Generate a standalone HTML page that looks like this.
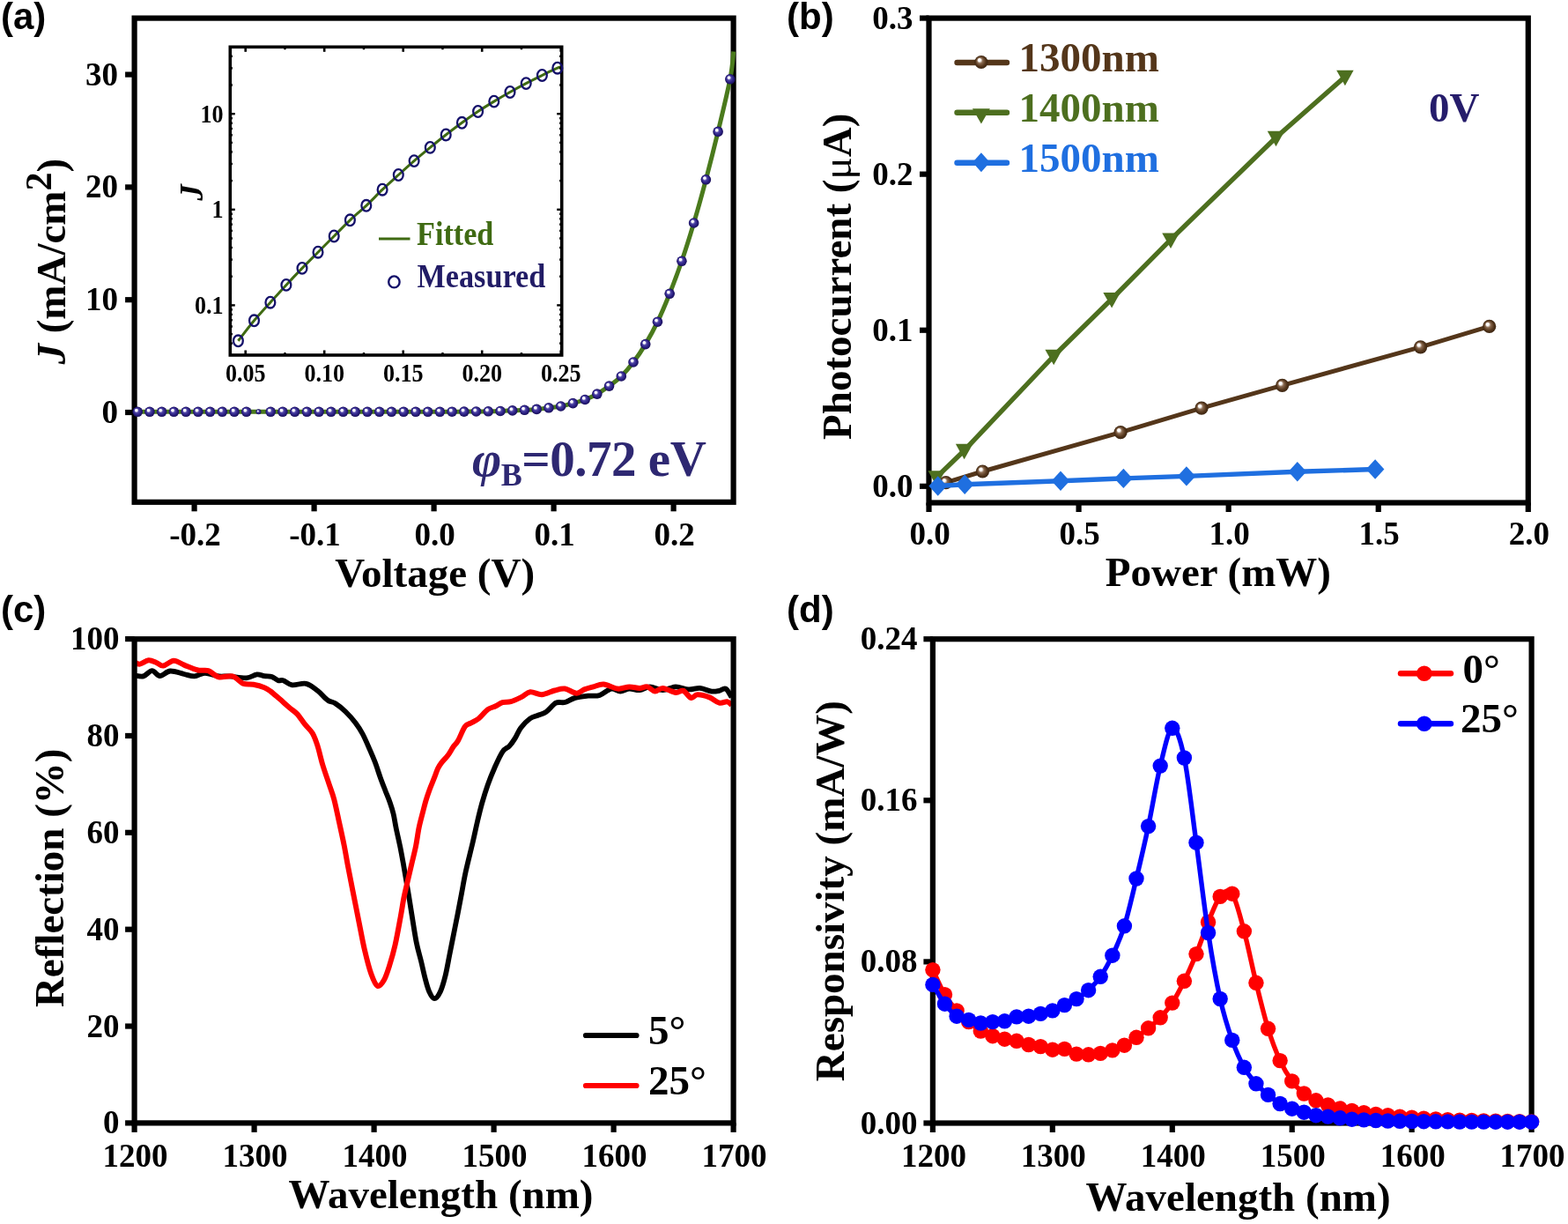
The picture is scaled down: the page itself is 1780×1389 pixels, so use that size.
<!DOCTYPE html><html><head><meta charset="utf-8"><title>Figure</title><style>
html,body{margin:0;padding:0;background:#fff;}
svg{display:block;}
.tk{font-family:'Liberation Serif', 'Times New Roman', serif;font-weight:bold;font-size:37px;fill:#000;}
.ax{font-family:'Liberation Serif', 'Times New Roman', serif;font-weight:bold;font-size:47px;fill:#000;}
.pl{font-family:'Liberation Sans', Arial, sans-serif;font-weight:bold;font-size:42px;fill:#000;}
</style></head><body>
<svg width="1780" height="1389" viewBox="0 0 1780 1389">
<rect width="1780" height="1389" fill="#fff"/>
<defs>
<radialGradient id="gball" cx="0.5" cy="0.5" r="0.5" fx="0.33" fy="0.3"><stop offset="0" stop-color="#ffffff"/><stop offset="0.22" stop-color="#ffffff"/><stop offset="0.42" stop-color="#5046a6"/><stop offset="0.7" stop-color="#2e2386"/><stop offset="1" stop-color="#170d58"/></radialGradient>
<radialGradient id="bball" cx="0.5" cy="0.5" r="0.5" fx="0.33" fy="0.3"><stop offset="0" stop-color="#ffffff"/><stop offset="0.2" stop-color="#ffffff"/><stop offset="0.42" stop-color="#8a6a50"/><stop offset="0.75" stop-color="#54361c"/><stop offset="1" stop-color="#3a2410"/></radialGradient>
<clipPath id="clipIn"><rect x="263" y="55" width="373" height="346.5"/></clipPath>
</defs>
<rect x="152.6" y="20.6" width="680" height="549.2" fill="none" stroke="#000" stroke-width="6.2" stroke-linejoin="miter"/>
<line x1="142.1" y1="468" x2="152.6" y2="468" stroke="#000" stroke-width="6.2"/>
<text x="134" y="480" text-anchor="end" class="tk">0</text>
<line x1="142.1" y1="340.2" x2="152.6" y2="340.2" stroke="#000" stroke-width="6.2"/>
<text x="134" y="352.2" text-anchor="end" class="tk">10</text>
<line x1="142.1" y1="212.4" x2="152.6" y2="212.4" stroke="#000" stroke-width="6.2"/>
<text x="134" y="224.4" text-anchor="end" class="tk">20</text>
<line x1="142.1" y1="84.6" x2="152.6" y2="84.6" stroke="#000" stroke-width="6.2"/>
<text x="134" y="96.6" text-anchor="end" class="tk">30</text>
<line x1="220.6" y1="569.8" x2="220.6" y2="580.3" stroke="#000" stroke-width="6.2"/>
<text x="221.6" y="618.6" text-anchor="middle" class="tk">-0.2</text>
<line x1="356.6" y1="569.8" x2="356.6" y2="580.3" stroke="#000" stroke-width="6.2"/>
<text x="357.6" y="618.6" text-anchor="middle" class="tk">-0.1</text>
<line x1="492.6" y1="569.8" x2="492.6" y2="580.3" stroke="#000" stroke-width="6.2"/>
<text x="493.6" y="618.6" text-anchor="middle" class="tk">0.0</text>
<line x1="628.6" y1="569.8" x2="628.6" y2="580.3" stroke="#000" stroke-width="6.2"/>
<text x="629.6" y="618.6" text-anchor="middle" class="tk">0.1</text>
<line x1="764.6" y1="569.8" x2="764.6" y2="580.3" stroke="#000" stroke-width="6.2"/>
<text x="765.6" y="618.6" text-anchor="middle" class="tk">0.2</text>
<path d="M153,467.4 C153.53,467.38 153.38,467.32 156.2,467.3 C159.02,467.28 165.35,467.3 169.93,467.3 C174.5,467.3 179.08,467.3 183.65,467.3 C188.23,467.3 192.81,467.3 197.38,467.3 C201.96,467.3 206.53,467.3 211.11,467.3 C215.68,467.3 220.26,467.3 224.83,467.3 C229.41,467.3 233.99,467.3 238.56,467.3 C243.14,467.3 247.71,467.3 252.29,467.3 C256.86,467.3 261.44,467.3 266.02,467.3 C270.59,467.3 275.17,467.3 279.74,467.3 C284.32,467.3 288.89,467.3 293.47,467.3 C298.05,467.3 302.62,467.3 307.2,467.3 C311.77,467.3 316.35,467.3 320.92,467.3 C325.5,467.3 330.08,467.3 334.65,467.3 C339.23,467.3 343.8,467.3 348.38,467.3 C352.95,467.3 357.53,467.3 362.11,467.3 C366.68,467.3 371.26,467.3 375.83,467.3 C380.41,467.3 384.98,467.3 389.56,467.3 C394.13,467.3 398.71,467.3 403.29,467.3 C407.86,467.3 412.44,467.3 417.01,467.3 C421.59,467.3 426.16,467.3 430.74,467.3 C435.32,467.3 439.89,467.3 444.47,467.3 C449.04,467.3 453.62,467.3 458.19,467.3 C462.77,467.3 467.35,467.3 471.92,467.3 C476.5,467.3 481.07,467.3 485.65,467.3 C490.22,467.3 494.8,467.32 499.38,467.3 C503.95,467.28 508.53,467.23 513.1,467.2 C517.68,467.17 522.25,467.13 526.83,467.1 C531.4,467.07 535.98,467.05 540.56,467 C545.13,466.95 549.71,466.88 554.28,466.8 C558.86,466.72 563.43,466.65 568.01,466.5 C572.59,466.35 577.16,466.1 581.74,465.9 C586.31,465.7 590.89,465.55 595.46,465.3 C600.04,465.05 604.62,464.82 609.19,464.4 C613.77,463.98 618.34,463.37 622.92,462.8 C627.49,462.23 632.07,461.87 636.64,461 C641.22,460.13 645.8,458.85 650.37,457.6 C654.95,456.35 659.52,455.25 664.1,453.5 C668.67,451.75 673.25,449.67 677.83,447.1 C682.4,444.53 686.98,441.45 691.55,438.1 C696.13,434.75 700.7,431.52 705.28,427 C709.86,422.48 714.43,417.07 719.01,411 C723.58,404.93 728.16,398.23 732.73,390.6 C737.31,382.97 741.89,374.75 746.46,365.2 C751.04,355.65 755.61,344.78 760.19,333.3 C764.76,321.82 769.34,309.68 773.91,296.3 C778.49,282.92 783.07,268.42 787.64,253 C792.22,237.58 796.79,221.07 801.37,203.8 C805.94,186.53 810.52,168.4 815.1,149.4 C819.67,130.4 825.87,104.95 828.82,89.8 C831.77,74.65 832.14,63.72 832.8,58.5" fill="none" stroke="#4a7a1c" stroke-width="5.0" stroke-linejoin="round"/>
<circle cx="156.2" cy="467.3" r="5.8" fill="url(#gball)"/>
<circle cx="169.93" cy="467.3" r="5.8" fill="url(#gball)"/>
<circle cx="183.65" cy="467.3" r="5.8" fill="url(#gball)"/>
<circle cx="197.38" cy="467.3" r="5.8" fill="url(#gball)"/>
<circle cx="211.11" cy="467.3" r="5.8" fill="url(#gball)"/>
<circle cx="224.83" cy="467.3" r="5.8" fill="url(#gball)"/>
<circle cx="238.56" cy="467.3" r="5.8" fill="url(#gball)"/>
<circle cx="252.29" cy="467.3" r="5.8" fill="url(#gball)"/>
<circle cx="266.02" cy="467.3" r="5.8" fill="url(#gball)"/>
<circle cx="279.74" cy="467.3" r="5.8" fill="url(#gball)"/>
<circle cx="293.47" cy="467.3" r="3.0" fill="url(#gball)"/>
<circle cx="307.2" cy="467.3" r="5.8" fill="url(#gball)"/>
<circle cx="320.92" cy="467.3" r="5.8" fill="url(#gball)"/>
<circle cx="334.65" cy="467.3" r="5.8" fill="url(#gball)"/>
<circle cx="348.38" cy="467.3" r="5.8" fill="url(#gball)"/>
<circle cx="362.11" cy="467.3" r="5.8" fill="url(#gball)"/>
<circle cx="375.83" cy="467.3" r="5.8" fill="url(#gball)"/>
<circle cx="389.56" cy="467.3" r="5.8" fill="url(#gball)"/>
<circle cx="403.29" cy="467.3" r="5.8" fill="url(#gball)"/>
<circle cx="417.01" cy="467.3" r="5.8" fill="url(#gball)"/>
<circle cx="430.74" cy="467.3" r="5.8" fill="url(#gball)"/>
<circle cx="444.47" cy="467.3" r="5.8" fill="url(#gball)"/>
<circle cx="458.19" cy="467.3" r="5.8" fill="url(#gball)"/>
<circle cx="471.92" cy="467.3" r="5.8" fill="url(#gball)"/>
<circle cx="485.65" cy="467.3" r="5.8" fill="url(#gball)"/>
<circle cx="499.38" cy="467.3" r="5.8" fill="url(#gball)"/>
<circle cx="513.1" cy="467.2" r="5.8" fill="url(#gball)"/>
<circle cx="526.83" cy="467.1" r="5.8" fill="url(#gball)"/>
<circle cx="540.56" cy="467" r="5.8" fill="url(#gball)"/>
<circle cx="554.28" cy="466.8" r="5.8" fill="url(#gball)"/>
<circle cx="568.01" cy="466.5" r="5.8" fill="url(#gball)"/>
<circle cx="581.74" cy="465.9" r="5.8" fill="url(#gball)"/>
<circle cx="595.46" cy="465.3" r="5.8" fill="url(#gball)"/>
<circle cx="609.19" cy="464.4" r="5.8" fill="url(#gball)"/>
<circle cx="622.92" cy="462.8" r="5.8" fill="url(#gball)"/>
<circle cx="636.64" cy="461" r="5.8" fill="url(#gball)"/>
<circle cx="650.37" cy="457.6" r="5.8" fill="url(#gball)"/>
<circle cx="664.1" cy="453.5" r="5.8" fill="url(#gball)"/>
<circle cx="677.83" cy="447.1" r="5.8" fill="url(#gball)"/>
<circle cx="691.55" cy="438.1" r="5.8" fill="url(#gball)"/>
<circle cx="705.28" cy="427" r="5.8" fill="url(#gball)"/>
<circle cx="719.01" cy="411" r="5.8" fill="url(#gball)"/>
<circle cx="732.73" cy="390.6" r="5.8" fill="url(#gball)"/>
<circle cx="746.46" cy="365.2" r="5.8" fill="url(#gball)"/>
<circle cx="760.19" cy="333.3" r="5.8" fill="url(#gball)"/>
<circle cx="773.91" cy="296.3" r="5.8" fill="url(#gball)"/>
<circle cx="787.64" cy="253" r="5.8" fill="url(#gball)"/>
<circle cx="801.37" cy="203.8" r="5.8" fill="url(#gball)"/>
<circle cx="815.1" cy="149.4" r="5.8" fill="url(#gball)"/>
<circle cx="828.82" cy="89.8" r="5.8" fill="url(#gball)"/>
<rect x="261.3" y="53.3" width="376.4" height="349.7" fill="#fff" stroke="none"/>
<g clip-path="url(#clipIn)">
<path d="M270.4,386.8 C273.42,382.97 282.42,371.07 288.5,363.8 C294.58,356.53 300.83,349.93 306.9,343.2 C312.97,336.47 318.88,329.87 324.9,323.4 C330.92,316.93 336.98,310.6 343,304.4 C349.02,298.2 354.97,292.27 361,286.2 C367.03,280.13 373.13,274.07 379.2,268 C385.27,261.93 391.3,255.58 397.4,249.8 C403.5,244.02 409.68,239.07 415.8,233.3 C421.92,227.53 428.02,221 434.1,215.2 C440.18,209.4 446.3,203.93 452.3,198.5 C458.3,193.07 464.1,187.78 470.1,182.6 C476.1,177.42 482.28,172.33 488.3,167.4 C494.32,162.47 500.18,157.68 506.2,153 C512.22,148.32 518.33,143.72 524.4,139.3 C530.47,134.88 536.53,130.53 542.6,126.5 C548.67,122.47 554.73,118.77 560.8,115.1 C566.87,111.43 572.93,107.92 579,104.5 C585.07,101.08 591.13,97.77 597.2,94.6 C603.27,91.43 609.47,88.4 615.4,85.5 C621.33,82.6 628.7,78.92 632.8,77.2 C636.9,75.48 638.8,75.53 640,75.2" fill="none" stroke="#3f6a12" stroke-width="3" stroke-linejoin="round"/>
</g>
<rect x="261.3" y="53.3" width="376.4" height="349.7" fill="none" stroke="#000" stroke-width="3.6"/>
<line x1="278.7" y1="403" x2="278.7" y2="397.5" stroke="#000" stroke-width="2.6"/>
<line x1="278.7" y1="53.3" x2="278.7" y2="58.8" stroke="#000" stroke-width="2.6"/>
<line x1="368.2" y1="403" x2="368.2" y2="397.5" stroke="#000" stroke-width="2.6"/>
<line x1="368.2" y1="53.3" x2="368.2" y2="58.8" stroke="#000" stroke-width="2.6"/>
<line x1="457.7" y1="403" x2="457.7" y2="397.5" stroke="#000" stroke-width="2.6"/>
<line x1="457.7" y1="53.3" x2="457.7" y2="58.8" stroke="#000" stroke-width="2.6"/>
<line x1="547.2" y1="403" x2="547.2" y2="397.5" stroke="#000" stroke-width="2.6"/>
<line x1="547.2" y1="53.3" x2="547.2" y2="58.8" stroke="#000" stroke-width="2.6"/>
<line x1="636.7" y1="403" x2="636.7" y2="397.5" stroke="#000" stroke-width="2.6"/>
<line x1="636.7" y1="53.3" x2="636.7" y2="58.8" stroke="#000" stroke-width="2.6"/>
<line x1="323.45" y1="403" x2="323.45" y2="400" stroke="#000" stroke-width="2.4"/>
<line x1="323.45" y1="53.3" x2="323.45" y2="56.3" stroke="#000" stroke-width="2.4"/>
<line x1="412.95" y1="403" x2="412.95" y2="400" stroke="#000" stroke-width="2.4"/>
<line x1="412.95" y1="53.3" x2="412.95" y2="56.3" stroke="#000" stroke-width="2.4"/>
<line x1="502.45" y1="403" x2="502.45" y2="400" stroke="#000" stroke-width="2.4"/>
<line x1="502.45" y1="53.3" x2="502.45" y2="56.3" stroke="#000" stroke-width="2.4"/>
<line x1="591.95" y1="403" x2="591.95" y2="400" stroke="#000" stroke-width="2.4"/>
<line x1="591.95" y1="53.3" x2="591.95" y2="56.3" stroke="#000" stroke-width="2.4"/>
<line x1="261.3" y1="389.62" x2="263.9" y2="389.62" stroke="#000" stroke-width="2.4"/>
<line x1="637.7" y1="389.62" x2="635.1" y2="389.62" stroke="#000" stroke-width="2.4"/>
<line x1="261.3" y1="379.09" x2="263.9" y2="379.09" stroke="#000" stroke-width="2.4"/>
<line x1="637.7" y1="379.09" x2="635.1" y2="379.09" stroke="#000" stroke-width="2.4"/>
<line x1="261.3" y1="370.49" x2="263.9" y2="370.49" stroke="#000" stroke-width="2.4"/>
<line x1="637.7" y1="370.49" x2="635.1" y2="370.49" stroke="#000" stroke-width="2.4"/>
<line x1="261.3" y1="363.22" x2="263.9" y2="363.22" stroke="#000" stroke-width="2.4"/>
<line x1="637.7" y1="363.22" x2="635.1" y2="363.22" stroke="#000" stroke-width="2.4"/>
<line x1="261.3" y1="356.92" x2="263.9" y2="356.92" stroke="#000" stroke-width="2.4"/>
<line x1="637.7" y1="356.92" x2="635.1" y2="356.92" stroke="#000" stroke-width="2.4"/>
<line x1="261.3" y1="351.37" x2="263.9" y2="351.37" stroke="#000" stroke-width="2.4"/>
<line x1="637.7" y1="351.37" x2="635.1" y2="351.37" stroke="#000" stroke-width="2.4"/>
<line x1="261.3" y1="346.4" x2="266.8" y2="346.4" stroke="#000" stroke-width="2.4"/>
<line x1="637.7" y1="346.4" x2="632.2" y2="346.4" stroke="#000" stroke-width="2.4"/>
<line x1="261.3" y1="313.71" x2="263.9" y2="313.71" stroke="#000" stroke-width="2.4"/>
<line x1="637.7" y1="313.71" x2="635.1" y2="313.71" stroke="#000" stroke-width="2.4"/>
<line x1="261.3" y1="294.58" x2="263.9" y2="294.58" stroke="#000" stroke-width="2.4"/>
<line x1="637.7" y1="294.58" x2="635.1" y2="294.58" stroke="#000" stroke-width="2.4"/>
<line x1="261.3" y1="281.02" x2="263.9" y2="281.02" stroke="#000" stroke-width="2.4"/>
<line x1="637.7" y1="281.02" x2="635.1" y2="281.02" stroke="#000" stroke-width="2.4"/>
<line x1="261.3" y1="270.49" x2="263.9" y2="270.49" stroke="#000" stroke-width="2.4"/>
<line x1="637.7" y1="270.49" x2="635.1" y2="270.49" stroke="#000" stroke-width="2.4"/>
<line x1="261.3" y1="261.89" x2="263.9" y2="261.89" stroke="#000" stroke-width="2.4"/>
<line x1="637.7" y1="261.89" x2="635.1" y2="261.89" stroke="#000" stroke-width="2.4"/>
<line x1="261.3" y1="254.62" x2="263.9" y2="254.62" stroke="#000" stroke-width="2.4"/>
<line x1="637.7" y1="254.62" x2="635.1" y2="254.62" stroke="#000" stroke-width="2.4"/>
<line x1="261.3" y1="248.32" x2="263.9" y2="248.32" stroke="#000" stroke-width="2.4"/>
<line x1="637.7" y1="248.32" x2="635.1" y2="248.32" stroke="#000" stroke-width="2.4"/>
<line x1="261.3" y1="242.77" x2="263.9" y2="242.77" stroke="#000" stroke-width="2.4"/>
<line x1="637.7" y1="242.77" x2="635.1" y2="242.77" stroke="#000" stroke-width="2.4"/>
<line x1="261.3" y1="237.8" x2="266.8" y2="237.8" stroke="#000" stroke-width="2.4"/>
<line x1="637.7" y1="237.8" x2="632.2" y2="237.8" stroke="#000" stroke-width="2.4"/>
<line x1="261.3" y1="205.11" x2="263.9" y2="205.11" stroke="#000" stroke-width="2.4"/>
<line x1="637.7" y1="205.11" x2="635.1" y2="205.11" stroke="#000" stroke-width="2.4"/>
<line x1="261.3" y1="185.98" x2="263.9" y2="185.98" stroke="#000" stroke-width="2.4"/>
<line x1="637.7" y1="185.98" x2="635.1" y2="185.98" stroke="#000" stroke-width="2.4"/>
<line x1="261.3" y1="172.42" x2="263.9" y2="172.42" stroke="#000" stroke-width="2.4"/>
<line x1="637.7" y1="172.42" x2="635.1" y2="172.42" stroke="#000" stroke-width="2.4"/>
<line x1="261.3" y1="161.89" x2="263.9" y2="161.89" stroke="#000" stroke-width="2.4"/>
<line x1="637.7" y1="161.89" x2="635.1" y2="161.89" stroke="#000" stroke-width="2.4"/>
<line x1="261.3" y1="153.29" x2="263.9" y2="153.29" stroke="#000" stroke-width="2.4"/>
<line x1="637.7" y1="153.29" x2="635.1" y2="153.29" stroke="#000" stroke-width="2.4"/>
<line x1="261.3" y1="146.02" x2="263.9" y2="146.02" stroke="#000" stroke-width="2.4"/>
<line x1="637.7" y1="146.02" x2="635.1" y2="146.02" stroke="#000" stroke-width="2.4"/>
<line x1="261.3" y1="139.72" x2="263.9" y2="139.72" stroke="#000" stroke-width="2.4"/>
<line x1="637.7" y1="139.72" x2="635.1" y2="139.72" stroke="#000" stroke-width="2.4"/>
<line x1="261.3" y1="134.17" x2="263.9" y2="134.17" stroke="#000" stroke-width="2.4"/>
<line x1="637.7" y1="134.17" x2="635.1" y2="134.17" stroke="#000" stroke-width="2.4"/>
<line x1="261.3" y1="129.2" x2="266.8" y2="129.2" stroke="#000" stroke-width="2.4"/>
<line x1="637.7" y1="129.2" x2="632.2" y2="129.2" stroke="#000" stroke-width="2.4"/>
<line x1="261.3" y1="96.51" x2="263.9" y2="96.51" stroke="#000" stroke-width="2.4"/>
<line x1="637.7" y1="96.51" x2="635.1" y2="96.51" stroke="#000" stroke-width="2.4"/>
<line x1="261.3" y1="77.38" x2="263.9" y2="77.38" stroke="#000" stroke-width="2.4"/>
<line x1="637.7" y1="77.38" x2="635.1" y2="77.38" stroke="#000" stroke-width="2.4"/>
<line x1="261.3" y1="63.82" x2="263.9" y2="63.82" stroke="#000" stroke-width="2.4"/>
<line x1="637.7" y1="63.82" x2="635.1" y2="63.82" stroke="#000" stroke-width="2.4"/>
<text transform="translate(278.7,433.4) scale(0.9,1)" text-anchor="middle" style="font-family:'Liberation Serif', 'Times New Roman', serif;font-weight:bold;font-size:29px">0.05</text>
<text transform="translate(368.2,433.4) scale(0.9,1)" text-anchor="middle" style="font-family:'Liberation Serif', 'Times New Roman', serif;font-weight:bold;font-size:29px">0.10</text>
<text transform="translate(457.7,433.4) scale(0.9,1)" text-anchor="middle" style="font-family:'Liberation Serif', 'Times New Roman', serif;font-weight:bold;font-size:29px">0.15</text>
<text transform="translate(547.2,433.4) scale(0.9,1)" text-anchor="middle" style="font-family:'Liberation Serif', 'Times New Roman', serif;font-weight:bold;font-size:29px">0.20</text>
<text transform="translate(636.7,433.4) scale(0.9,1)" text-anchor="middle" style="font-family:'Liberation Serif', 'Times New Roman', serif;font-weight:bold;font-size:29px">0.25</text>
<text transform="translate(253.5,355.7) scale(0.9,1)" text-anchor="end" style="font-family:'Liberation Serif', 'Times New Roman', serif;font-weight:bold;font-size:29px">0.1</text>
<text transform="translate(253.5,247.1) scale(0.9,1)" text-anchor="end" style="font-family:'Liberation Serif', 'Times New Roman', serif;font-weight:bold;font-size:29px">1</text>
<text transform="translate(253.5,138.5) scale(0.9,1)" text-anchor="end" style="font-family:'Liberation Serif', 'Times New Roman', serif;font-weight:bold;font-size:29px">10</text>
<text transform="translate(229.5,218.5) rotate(-90)" text-anchor="middle" style="font-family:'Liberation Serif', 'Times New Roman', serif;font-weight:bold;font-style:italic;font-size:37px">J</text>
<ellipse cx="270.4" cy="386.8" rx="5.4" ry="6.3" fill="none" stroke="#14106a" stroke-width="2.3"/>
<ellipse cx="288.5" cy="363.8" rx="5.4" ry="6.3" fill="none" stroke="#14106a" stroke-width="2.3"/>
<ellipse cx="306.9" cy="343.2" rx="5.4" ry="6.3" fill="none" stroke="#14106a" stroke-width="2.3"/>
<ellipse cx="324.9" cy="323.4" rx="5.4" ry="6.3" fill="none" stroke="#14106a" stroke-width="2.3"/>
<ellipse cx="343" cy="304.4" rx="5.4" ry="6.3" fill="none" stroke="#14106a" stroke-width="2.3"/>
<ellipse cx="361" cy="286.2" rx="5.4" ry="6.3" fill="none" stroke="#14106a" stroke-width="2.3"/>
<ellipse cx="379.2" cy="268" rx="5.4" ry="6.3" fill="none" stroke="#14106a" stroke-width="2.3"/>
<ellipse cx="397.4" cy="249.8" rx="5.4" ry="6.3" fill="none" stroke="#14106a" stroke-width="2.3"/>
<ellipse cx="415.8" cy="233.3" rx="5.4" ry="6.3" fill="none" stroke="#14106a" stroke-width="2.3"/>
<ellipse cx="434.1" cy="215.2" rx="5.4" ry="6.3" fill="none" stroke="#14106a" stroke-width="2.3"/>
<ellipse cx="452.3" cy="198.5" rx="5.4" ry="6.3" fill="none" stroke="#14106a" stroke-width="2.3"/>
<ellipse cx="470.1" cy="182.6" rx="5.4" ry="6.3" fill="none" stroke="#14106a" stroke-width="2.3"/>
<ellipse cx="488.3" cy="167.4" rx="5.4" ry="6.3" fill="none" stroke="#14106a" stroke-width="2.3"/>
<ellipse cx="506.2" cy="153" rx="5.4" ry="6.3" fill="none" stroke="#14106a" stroke-width="2.3"/>
<ellipse cx="524.4" cy="139.3" rx="5.4" ry="6.3" fill="none" stroke="#14106a" stroke-width="2.3"/>
<ellipse cx="542.6" cy="126.5" rx="5.4" ry="6.3" fill="none" stroke="#14106a" stroke-width="2.3"/>
<ellipse cx="560.8" cy="115.1" rx="5.4" ry="6.3" fill="none" stroke="#14106a" stroke-width="2.3"/>
<ellipse cx="579" cy="104.5" rx="5.4" ry="6.3" fill="none" stroke="#14106a" stroke-width="2.3"/>
<ellipse cx="597.2" cy="94.6" rx="5.4" ry="6.3" fill="none" stroke="#14106a" stroke-width="2.3"/>
<ellipse cx="615.4" cy="85.5" rx="5.4" ry="6.3" fill="none" stroke="#14106a" stroke-width="2.3"/>
<ellipse cx="632.8" cy="77.2" rx="5.4" ry="6.3" fill="none" stroke="#14106a" stroke-width="2.3"/>
<line x1="430" y1="271" x2="465.5" y2="271" stroke="#3f6a12" stroke-width="3"/>
<text transform="translate(473,278.2) scale(0.925,1)" style="font-family:'Liberation Serif', 'Times New Roman', serif;font-weight:bold;font-size:37px;fill:#3f6a12">Fitted</text>
<ellipse cx="447.4" cy="319.9" rx="6.2" ry="6.5" fill="none" stroke="#14106a" stroke-width="2.4"/>
<text transform="translate(473.5,326) scale(0.925,1)" style="font-family:'Liberation Serif', 'Times New Roman', serif;font-weight:bold;font-size:37px;fill:#221c66">Measured</text>
<text x="536" y="539.9" style="font-family:'Liberation Serif', 'Times New Roman', serif;font-weight:bold;font-size:57px;fill:#2e2872;letter-spacing:-0.5px"><tspan style="font-style:italic">φ</tspan><tspan dy="11" style="font-size:36px">B</tspan><tspan dy="-11">=0.72 eV</tspan></text>
<text x="493.7" y="665.7" text-anchor="middle" class="ax">Voltage (V)</text>
<text transform="translate(74.3,296.7) rotate(-90)" text-anchor="middle" class="ax"><tspan style="font-style:italic">J</tspan> (mA/cm<tspan dy="-16" style="font-size:42px">2</tspan><tspan dy="16">)</tspan></text>
<text x="1" y="33.1" class="pl">(a)</text>
<rect x="1054.5" y="20.6" width="680.3" height="549.9" fill="none" stroke="#000" stroke-width="6.2" stroke-linejoin="miter"/>
<line x1="1044" y1="551.8" x2="1054.5" y2="551.8" stroke="#000" stroke-width="6.2"/>
<text x="1036.5" y="563.8" text-anchor="end" class="tk">0.0</text>
<line x1="1044" y1="374.73" x2="1054.5" y2="374.73" stroke="#000" stroke-width="6.2"/>
<text x="1036.5" y="386.73" text-anchor="end" class="tk">0.1</text>
<line x1="1044" y1="197.66" x2="1054.5" y2="197.66" stroke="#000" stroke-width="6.2"/>
<text x="1036.5" y="209.66" text-anchor="end" class="tk">0.2</text>
<line x1="1044" y1="20.59" x2="1054.5" y2="20.59" stroke="#000" stroke-width="6.2"/>
<text x="1036.5" y="32.59" text-anchor="end" class="tk">0.3</text>
<line x1="1054.5" y1="570.5" x2="1054.5" y2="581" stroke="#000" stroke-width="6.2"/>
<text x="1055.5" y="618.2" text-anchor="middle" class="tk">0.0</text>
<line x1="1224.58" y1="570.5" x2="1224.58" y2="581" stroke="#000" stroke-width="6.2"/>
<text x="1225.58" y="618.2" text-anchor="middle" class="tk">0.5</text>
<line x1="1394.65" y1="570.5" x2="1394.65" y2="581" stroke="#000" stroke-width="6.2"/>
<text x="1395.65" y="618.2" text-anchor="middle" class="tk">1.0</text>
<line x1="1564.72" y1="570.5" x2="1564.72" y2="581" stroke="#000" stroke-width="6.2"/>
<text x="1565.72" y="618.2" text-anchor="middle" class="tk">1.5</text>
<line x1="1734.8" y1="570.5" x2="1734.8" y2="581" stroke="#000" stroke-width="6.2"/>
<text x="1735.8" y="618.2" text-anchor="middle" class="tk">2.0</text>
<polyline points="1063.2,541.5 1094.6,511.2 1196.2,404 1262.1,339.3 1329,271.8 1448.5,156 1526.9,87" fill="none" stroke="#4d6f1f" stroke-width="5.4" stroke-linejoin="round"/>
<polyline points="1073.8,547.6 1115.4,535 1272.1,490.6 1364,463.2 1455.6,437.4 1612.6,393.8 1690.7,370.4" fill="none" stroke="#54361a" stroke-width="5.0" stroke-linejoin="round"/>
<circle cx="1073.8" cy="547.6" r="7.6" fill="url(#bball)"/>
<circle cx="1115.4" cy="535" r="7.6" fill="url(#bball)"/>
<circle cx="1272.1" cy="490.6" r="7.6" fill="url(#bball)"/>
<circle cx="1364" cy="463.2" r="7.6" fill="url(#bball)"/>
<circle cx="1455.6" cy="437.4" r="7.6" fill="url(#bball)"/>
<circle cx="1612.6" cy="393.8" r="7.6" fill="url(#bball)"/>
<circle cx="1690.7" cy="370.4" r="7.6" fill="url(#bball)"/>
<polygon points="1053.45,534.15 1072.95,534.15 1063.2,551.65" fill="#4d6f1f"/>
<polygon points="1084.85,503.85 1104.35,503.85 1094.6,521.35" fill="#4d6f1f"/>
<polygon points="1186.45,396.65 1205.95,396.65 1196.2,414.15" fill="#4d6f1f"/>
<polygon points="1252.35,331.95 1271.85,331.95 1262.1,349.45" fill="#4d6f1f"/>
<polygon points="1319.25,264.45 1338.75,264.45 1329,281.95" fill="#4d6f1f"/>
<polygon points="1438.75,148.65 1458.25,148.65 1448.5,166.15" fill="#4d6f1f"/>
<polygon points="1517.15,79.65 1536.65,79.65 1526.9,97.15" fill="#4d6f1f"/>
<polyline points="1064.7,551.5 1095.2,549.8 1204,545.8 1275.4,542.9 1346.9,540.4 1472.8,535.3 1561.1,532.5" fill="none" stroke="#1f6fe0" stroke-width="5.4" stroke-linejoin="round"/>
<polygon points="1054.4,551.5 1064.7,540.3 1075,551.5 1064.7,562.7" fill="#1f6fe0"/>
<polygon points="1084.9,549.8 1095.2,538.6 1105.5,549.8 1095.2,561" fill="#1f6fe0"/>
<polygon points="1193.7,545.8 1204,534.6 1214.3,545.8 1204,557" fill="#1f6fe0"/>
<polygon points="1265.1,542.9 1275.4,531.7 1285.7,542.9 1275.4,554.1" fill="#1f6fe0"/>
<polygon points="1336.6,540.4 1346.9,529.2 1357.2,540.4 1346.9,551.6" fill="#1f6fe0"/>
<polygon points="1462.5,535.3 1472.8,524.1 1483.1,535.3 1472.8,546.5" fill="#1f6fe0"/>
<polygon points="1550.8,532.5 1561.1,521.3 1571.4,532.5 1561.1,543.7" fill="#1f6fe0"/>
<line x1="1086.5" y1="71" x2="1143" y2="71" stroke="#54361a" stroke-width="6.4" stroke-linecap="round"/>
<circle cx="1113.9" cy="70.5" r="7.6" fill="url(#bball)"/>
<text x="1156.5" y="81.4" style="font-family:'Liberation Serif', 'Times New Roman', serif;font-weight:bold;font-size:47px;fill:#54361a">1300nm</text>
<line x1="1086.5" y1="127.8" x2="1143" y2="127.8" stroke="#4d6f1f" stroke-width="6.4" stroke-linecap="round"/>
<polygon points="1103.9,123.18 1123.9,123.18 1113.9,140.38" fill="#4d6f1f"/>
<text x="1156.5" y="137.9" style="font-family:'Liberation Serif', 'Times New Roman', serif;font-weight:bold;font-size:47px;fill:#4d6f1f">1400nm</text>
<line x1="1086.5" y1="184.7" x2="1143" y2="184.7" stroke="#1f6fe0" stroke-width="6.4" stroke-linecap="round"/>
<polygon points="1104.1,184.2 1113.9,173.2 1123.7,184.2 1113.9,195.2" fill="#1f6fe0"/>
<text x="1156.5" y="195" style="font-family:'Liberation Serif', 'Times New Roman', serif;font-weight:bold;font-size:47px;fill:#1f6fe0">1500nm</text>
<text x="1622" y="137.8" style="font-family:'Liberation Serif', 'Times New Roman', serif;font-weight:bold;font-size:47px;fill:#261d6b">0V</text>
<text x="1382.9" y="665.4" text-anchor="middle" class="ax">Power (mW)</text>
<text transform="translate(966.4,313.8) rotate(-90)" text-anchor="middle" class="ax">Photocurrent (<tspan style="font-weight:normal">μ</tspan>A)</text>
<text x="893" y="33.1" class="pl">(b)</text>
<path d="M152.9,766.4 C154.55,766.57 159.52,768.28 162.8,767.4 C166.08,766.52 169.48,761.17 172.6,761.1 C175.72,761.03 178.05,766.93 181.5,767 C184.95,767.07 188.72,761.83 193.3,761.5 C197.88,761.17 204.42,764.02 209,765 C213.58,765.98 216.87,767.6 220.8,767.4 C224.73,767.2 228.02,763.8 232.6,763.8 C237.18,763.8 243.72,766.8 248.3,767.4 C252.88,768 254.85,767.08 260.1,767.4 C265.35,767.72 274.55,769.63 279.8,769.3 C285.05,768.97 288.23,765.75 291.6,765.4 C294.97,765.05 297.17,766.78 300,767.2 C302.83,767.62 305.97,767.07 308.6,767.9 C311.23,768.73 313.63,771.48 315.8,772.2 C317.97,772.92 318.95,771.35 321.6,772.2 C324.25,773.05 327.38,776.7 331.7,777.3 C336.02,777.9 342.7,774.72 347.5,775.8 C352.3,776.88 356.42,780.67 360.5,783.8 C364.58,786.93 368.63,792.2 372,794.6 C375.37,797 377.33,796.05 380.7,798.2 C384.07,800.35 388.37,803.78 392.2,807.5 C396.03,811.22 400.45,816.25 403.7,820.5 C406.95,824.75 409.08,828.12 411.7,833 C414.32,837.88 417.03,844.42 419.4,849.8 C421.77,855.18 423.85,859.9 425.9,865.3 C427.95,870.7 429.75,876.8 431.7,882.2 C433.65,887.6 435.77,892.95 437.6,897.7 C439.43,902.45 441.2,906.38 442.7,910.7 C444.2,915.02 445.43,918.72 446.6,923.6 C447.77,928.48 448.4,933.67 449.7,940 C451,946.33 452.95,954.4 454.4,961.6 C455.85,968.8 457.2,976.48 458.4,983.2 C459.6,989.92 460.58,995.9 461.6,1001.9 C462.62,1007.9 463.47,1012.85 464.5,1019.2 C465.53,1025.55 466.42,1031.55 467.8,1040 C469.18,1048.45 471.1,1061.47 472.8,1069.9 C474.5,1078.33 476.37,1083.88 478,1090.6 C479.63,1097.32 481.07,1104.43 482.6,1110.2 C484.13,1115.97 485.43,1121.37 487.2,1125.2 C488.97,1129.03 491.08,1133.2 493.2,1133.2 C495.32,1133.2 497.82,1129.62 499.9,1125.2 C501.98,1120.78 503.97,1113.62 505.7,1106.7 C507.43,1099.78 508.77,1091.38 510.3,1083.7 C511.83,1076.02 513.37,1068.28 514.9,1060.6 C516.43,1052.92 517.97,1045.47 519.5,1037.6 C521.03,1029.73 522.57,1021.47 524.1,1013.4 C525.63,1005.33 526.58,998.87 528.7,989.2 C530.82,979.53 534.58,964.92 536.8,955.4 C539.02,945.88 540.27,939.43 542,932.1 C543.73,924.77 545.25,918.3 547.2,911.4 C549.15,904.5 551.32,897.4 553.7,890.7 C556.08,884 558.7,877.47 561.5,871.2 C564.3,864.93 567.7,857.2 570.5,853.1 C573.3,849 575.92,849.18 578.3,846.6 C580.68,844.02 582.65,841.05 584.8,837.6 C586.95,834.15 588.4,829.58 591.2,825.9 C594,822.22 598.35,817.87 601.6,815.5 C604.85,813.13 607.63,812.98 610.7,811.7 C613.77,810.42 616.6,810.13 620,807.8 C623.4,805.47 627.55,799.5 631.1,797.7 C634.65,795.9 637.65,797.97 641.3,797 C644.95,796.03 648.62,793.12 653,791.9 C657.38,790.68 662.97,790.2 667.6,789.7 C672.23,789.2 676.42,790.25 680.8,788.9 C685.18,787.55 690,782.32 693.9,781.6 C697.8,780.88 700.78,784.6 704.2,784.6 C707.62,784.6 710.75,781.85 714.4,781.6 C718.05,781.35 722.2,783.47 726.1,783.1 C730,782.73 733.42,779.4 737.8,779.4 C742.18,779.4 747.53,783.1 752.4,783.1 C757.27,783.1 762.13,779.52 767,779.4 C771.87,779.28 776.98,782.15 781.6,782.4 C786.22,782.65 790.32,780.53 794.7,780.9 C799.08,781.27 804.25,784.12 807.9,784.6 C811.55,785.08 813.93,784.3 816.6,783.8 C819.27,783.3 821.58,780.38 823.9,781.6 C826.22,782.82 829.4,789.52 830.5,791.1" fill="none" stroke="#000" stroke-width="5.8" stroke-linejoin="round"/>
<path d="M152.9,751.6 C153.88,751.93 156.17,753.98 158.8,753.6 C161.43,753.22 165.58,749.57 168.7,749.3 C171.82,749.03 174.72,750.95 177.5,752 C180.28,753.05 182.12,755.98 185.4,755.6 C188.68,755.22 193.27,749.87 197.2,749.7 C201.13,749.53 204.42,752.8 209,754.6 C213.58,756.4 220.12,759.42 224.7,760.5 C229.28,761.58 232.57,759.8 236.5,761.1 C240.43,762.4 243.72,767.25 248.3,768.3 C252.88,769.35 259.42,766.18 264,767.4 C268.58,768.62 271.87,774.03 275.8,775.6 C279.73,777.17 283.57,776.03 287.6,776.8 C291.63,777.57 296.73,778.92 300,780.2 C303.27,781.48 304.32,782.35 307.2,784.5 C310.08,786.65 313.7,789.98 317.3,793.1 C320.9,796.22 325.43,800.32 328.8,803.2 C332.17,806.08 334.62,807.28 337.5,810.4 C340.38,813.52 343.23,818.3 346.1,821.9 C348.97,825.5 352.3,827.92 354.7,832 C357.1,836.08 358.57,840.4 360.5,846.4 C362.43,852.4 364.13,860.8 366.3,868 C368.47,875.2 371.35,883.12 373.5,889.6 C375.65,896.08 377.28,899.68 379.2,906.9 C381.12,914.12 383.07,924.05 385,932.9 C386.93,941.75 389.17,951.82 390.8,960 C392.43,968.18 393.2,973.57 394.8,982 C396.4,990.43 398.25,999.72 400.4,1010.6 C402.55,1021.48 405.45,1036.08 407.7,1047.3 C409.95,1058.52 411.65,1068.32 413.9,1077.9 C416.15,1087.48 418.77,1097.97 421.2,1104.8 C423.63,1111.63 426.05,1117.67 428.5,1118.9 C430.95,1120.13 433.6,1116.15 435.9,1112.2 C438.2,1108.25 440.18,1101.87 442.3,1095.2 C444.42,1088.53 446.52,1081.4 448.6,1072.2 C450.68,1063 453.17,1048.83 454.8,1040 C456.43,1031.17 457.15,1025.55 458.4,1019.2 C459.65,1012.85 460.87,1008.13 462.3,1001.9 C463.73,995.67 465.37,988.78 467,981.8 C468.63,974.82 470.67,967.07 472.1,960 C473.53,952.93 474.3,945.72 475.6,939.4 C476.9,933.08 478.62,927.15 479.9,922.1 C481.18,917.05 482.02,913.42 483.3,909.1 C484.58,904.78 486.02,900.52 487.6,896.2 C489.18,891.88 491.22,887.23 492.8,883.2 C494.38,879.17 495.65,875.02 497.1,872 C498.55,868.98 499.62,867.55 501.5,865.1 C503.38,862.65 506.25,860.18 508.4,857.3 C510.55,854.42 512.47,850.6 514.4,847.8 C516.33,845 517.77,844.37 520,840.5 C522.23,836.63 525.43,827.9 527.8,824.6 C530.17,821.3 531.62,822.22 534.2,820.7 C536.78,819.18 540.05,818.08 543.3,815.5 C546.55,812.92 550.47,807.57 553.7,805.2 C556.93,802.83 559.92,802.65 562.7,801.3 C565.48,799.95 567.52,797.95 570.4,797.1 C573.28,796.25 576.45,797.2 580,796.2 C583.55,795.2 588.05,792.92 591.7,791.1 C595.35,789.28 598,785.78 601.9,785.3 C605.8,784.82 610.47,788.5 615.1,788.2 C619.73,787.9 625.33,784.6 629.7,783.5 C634.07,782.4 637.17,781.07 641.3,781.6 C645.43,782.13 650.83,786.57 654.5,786.7 C658.17,786.83 660.13,783.62 663.3,782.4 C666.47,781.18 669.85,780.38 673.5,779.4 C677.15,778.42 680.58,776.13 685.2,776.5 C689.82,776.87 696.33,781.12 701.2,781.6 C706.07,782.08 710.25,779.52 714.4,779.4 C718.55,779.28 722.7,780.9 726.1,780.9 C729.5,780.9 731.88,778.78 734.8,779.4 C737.72,780.02 740.67,784.35 743.6,784.6 C746.53,784.85 748.5,780.67 752.4,780.9 C756.3,781.13 763.12,785.52 767,786 C770.88,786.48 772.78,782.82 775.7,783.8 C778.62,784.78 781.82,791.17 784.5,791.9 C787.18,792.63 788.4,788.33 791.8,788.2 C795.2,788.07 800.77,789.52 804.9,791.1 C809.03,792.68 813.18,796.85 816.6,797.7 C820.02,798.55 823.08,795.83 825.4,796.2 C827.72,796.57 829.65,799.28 830.5,799.9" fill="none" stroke="#ff0000" stroke-width="6.0" stroke-linejoin="round"/>
<rect x="152.6" y="725.2" width="680" height="549.2" fill="none" stroke="#000" stroke-width="6.2" stroke-linejoin="miter"/>
<line x1="142.1" y1="1274.4" x2="152.6" y2="1274.4" stroke="#000" stroke-width="6.2"/>
<text x="135.5" y="1286.4" text-anchor="end" class="tk">0</text>
<line x1="142.1" y1="1164.54" x2="152.6" y2="1164.54" stroke="#000" stroke-width="6.2"/>
<text x="135.5" y="1176.54" text-anchor="end" class="tk">20</text>
<line x1="142.1" y1="1054.68" x2="152.6" y2="1054.68" stroke="#000" stroke-width="6.2"/>
<text x="135.5" y="1066.68" text-anchor="end" class="tk">40</text>
<line x1="142.1" y1="944.82" x2="152.6" y2="944.82" stroke="#000" stroke-width="6.2"/>
<text x="135.5" y="956.82" text-anchor="end" class="tk">60</text>
<line x1="142.1" y1="834.96" x2="152.6" y2="834.96" stroke="#000" stroke-width="6.2"/>
<text x="135.5" y="846.96" text-anchor="end" class="tk">80</text>
<line x1="142.1" y1="725.1" x2="152.6" y2="725.1" stroke="#000" stroke-width="6.2"/>
<text x="135.5" y="737.1" text-anchor="end" class="tk">100</text>
<line x1="152.6" y1="1274.4" x2="152.6" y2="1284.9" stroke="#000" stroke-width="6.2"/>
<text x="153.6" y="1323.5" text-anchor="middle" class="tk">1200</text>
<line x1="288.6" y1="1274.4" x2="288.6" y2="1284.9" stroke="#000" stroke-width="6.2"/>
<text x="289.6" y="1323.5" text-anchor="middle" class="tk">1300</text>
<line x1="424.6" y1="1274.4" x2="424.6" y2="1284.9" stroke="#000" stroke-width="6.2"/>
<text x="425.6" y="1323.5" text-anchor="middle" class="tk">1400</text>
<line x1="560.6" y1="1274.4" x2="560.6" y2="1284.9" stroke="#000" stroke-width="6.2"/>
<text x="561.6" y="1323.5" text-anchor="middle" class="tk">1500</text>
<line x1="696.6" y1="1274.4" x2="696.6" y2="1284.9" stroke="#000" stroke-width="6.2"/>
<text x="697.6" y="1323.5" text-anchor="middle" class="tk">1600</text>
<line x1="832.6" y1="1274.4" x2="832.6" y2="1284.9" stroke="#000" stroke-width="6.2"/>
<text x="833.6" y="1323.5" text-anchor="middle" class="tk">1700</text>
<line x1="665" y1="1175" x2="722.5" y2="1175" stroke="#000" stroke-width="6.2" stroke-linecap="round"/>
<line x1="665" y1="1232" x2="722.5" y2="1232" stroke="#ff0000" stroke-width="6.2" stroke-linecap="round"/>
<text x="736" y="1185" class="ax">5°</text>
<text x="736" y="1241.5" class="ax">25°</text>
<text x="500.5" y="1370.9" text-anchor="middle" class="ax">Wavelength (nm)</text>
<text transform="translate(71.5,996.3) rotate(-90)" text-anchor="middle" class="ax">Reflection (%)</text>
<text x="1" y="705.5" class="pl">(c)</text>
<rect x="1058.9" y="725.2" width="679.7" height="549.3" fill="none" stroke="#000" stroke-width="6.2" stroke-linejoin="miter"/>
<line x1="1048.4" y1="1274.5" x2="1058.9" y2="1274.5" stroke="#000" stroke-width="6.2"/>
<text x="1041.5" y="1286.5" text-anchor="end" class="tk">0.00</text>
<line x1="1048.4" y1="1091.4" x2="1058.9" y2="1091.4" stroke="#000" stroke-width="6.2"/>
<text x="1041.5" y="1103.4" text-anchor="end" class="tk">0.08</text>
<line x1="1048.4" y1="908.3" x2="1058.9" y2="908.3" stroke="#000" stroke-width="6.2"/>
<text x="1041.5" y="920.3" text-anchor="end" class="tk">0.16</text>
<line x1="1048.4" y1="725.2" x2="1058.9" y2="725.2" stroke="#000" stroke-width="6.2"/>
<text x="1041.5" y="737.2" text-anchor="end" class="tk">0.24</text>
<line x1="1058.9" y1="1274.5" x2="1058.9" y2="1285" stroke="#000" stroke-width="6.2"/>
<text x="1059.9" y="1323.5" text-anchor="middle" class="tk">1200</text>
<line x1="1194.84" y1="1274.5" x2="1194.84" y2="1285" stroke="#000" stroke-width="6.2"/>
<text x="1195.84" y="1323.5" text-anchor="middle" class="tk">1300</text>
<line x1="1330.78" y1="1274.5" x2="1330.78" y2="1285" stroke="#000" stroke-width="6.2"/>
<text x="1331.78" y="1323.5" text-anchor="middle" class="tk">1400</text>
<line x1="1466.72" y1="1274.5" x2="1466.72" y2="1285" stroke="#000" stroke-width="6.2"/>
<text x="1467.72" y="1323.5" text-anchor="middle" class="tk">1500</text>
<line x1="1602.66" y1="1274.5" x2="1602.66" y2="1285" stroke="#000" stroke-width="6.2"/>
<text x="1603.66" y="1323.5" text-anchor="middle" class="tk">1600</text>
<line x1="1738.6" y1="1274.5" x2="1738.6" y2="1285" stroke="#000" stroke-width="6.2"/>
<text x="1739.6" y="1323.5" text-anchor="middle" class="tk">1700</text>
<path d="M1058.9,1100.6 C1061.17,1105.28 1067.96,1120.98 1072.49,1128.7 C1077.03,1136.42 1081.56,1141.75 1086.09,1146.9 C1090.62,1152.05 1095.15,1155.73 1099.68,1159.6 C1104.21,1163.47 1108.74,1167.42 1113.28,1170.1 C1117.81,1172.78 1122.34,1174.18 1126.87,1175.7 C1131.4,1177.22 1135.93,1178.27 1140.46,1179.2 C1145,1180.13 1149.53,1180.25 1154.06,1181.3 C1158.59,1182.35 1163.12,1184.45 1167.65,1185.5 C1172.18,1186.55 1176.71,1186.65 1181.25,1187.6 C1185.78,1188.55 1190.31,1190.73 1194.84,1191.2 C1199.37,1191.67 1203.9,1189.58 1208.43,1190.4 C1212.97,1191.22 1217.5,1195.03 1222.03,1196.1 C1226.56,1197.17 1231.09,1196.92 1235.62,1196.8 C1240.15,1196.68 1244.68,1196.22 1249.22,1195.4 C1253.75,1194.58 1258.28,1193.43 1262.81,1191.9 C1267.34,1190.37 1271.87,1188.63 1276.4,1186.2 C1280.94,1183.77 1285.47,1180.53 1290,1177.3 C1294.53,1174.07 1299.06,1170.55 1303.59,1166.8 C1308.12,1163.05 1312.65,1159.58 1317.19,1154.8 C1321.72,1150.02 1326.25,1145.02 1330.78,1138.1 C1335.31,1131.18 1339.84,1122.55 1344.37,1113.3 C1348.91,1104.05 1353.44,1093.73 1357.97,1082.6 C1362.5,1071.47 1367.03,1057.37 1371.56,1046.5 C1376.09,1035.63 1380.62,1022.78 1385.16,1017.4 C1389.69,1012.02 1394.22,1007.63 1398.75,1014.2 C1403.28,1020.77 1407.81,1039.95 1412.34,1056.8 C1416.88,1073.65 1421.41,1096.88 1425.94,1115.3 C1430.47,1133.72 1435,1152.58 1439.53,1167.3 C1444.06,1182.02 1448.59,1193.67 1453.13,1203.6 C1457.66,1213.53 1462.19,1220.67 1466.72,1226.9 C1471.25,1233.13 1475.78,1237.35 1480.31,1241 C1484.85,1244.65 1489.38,1246.63 1493.91,1248.8 C1498.44,1250.97 1502.97,1252.47 1507.5,1254 C1512.03,1255.53 1516.56,1256.92 1521.1,1258 C1525.63,1259.08 1530.16,1259.72 1534.69,1260.5 C1539.22,1261.28 1543.75,1262.03 1548.28,1262.7 C1552.82,1263.37 1557.35,1264 1561.88,1264.5 C1566.41,1265 1570.94,1265.27 1575.47,1265.7 C1580,1266.13 1584.53,1266.68 1589.07,1267.1 C1593.6,1267.52 1598.13,1267.85 1602.66,1268.2 C1607.19,1268.55 1611.72,1268.9 1616.25,1269.2 C1620.79,1269.5 1625.32,1269.77 1629.85,1270 C1634.38,1270.23 1638.91,1270.42 1643.44,1270.6 C1647.97,1270.78 1652.5,1270.95 1657.04,1271.1 C1661.57,1271.25 1666.1,1271.37 1670.63,1271.5 C1675.16,1271.63 1679.69,1271.78 1684.22,1271.9 C1688.76,1272.02 1693.29,1272.1 1697.82,1272.2 C1702.35,1272.3 1706.88,1272.42 1711.41,1272.5 C1715.94,1272.58 1720.47,1272.63 1725.01,1272.7 C1729.54,1272.77 1736.33,1272.87 1738.6,1272.9" fill="none" stroke="#ff0000" stroke-width="5.4" stroke-linejoin="round"/>
<circle cx="1058.9" cy="1100.6" r="8.7" fill="#ff0000"/>
<circle cx="1072.49" cy="1128.7" r="8.7" fill="#ff0000"/>
<circle cx="1086.09" cy="1146.9" r="8.7" fill="#ff0000"/>
<circle cx="1099.68" cy="1159.6" r="8.7" fill="#ff0000"/>
<circle cx="1113.28" cy="1170.1" r="8.7" fill="#ff0000"/>
<circle cx="1126.87" cy="1175.7" r="8.7" fill="#ff0000"/>
<circle cx="1140.46" cy="1179.2" r="8.7" fill="#ff0000"/>
<circle cx="1154.06" cy="1181.3" r="8.7" fill="#ff0000"/>
<circle cx="1167.65" cy="1185.5" r="8.7" fill="#ff0000"/>
<circle cx="1181.25" cy="1187.6" r="8.7" fill="#ff0000"/>
<circle cx="1194.84" cy="1191.2" r="8.7" fill="#ff0000"/>
<circle cx="1208.43" cy="1190.4" r="8.7" fill="#ff0000"/>
<circle cx="1222.03" cy="1196.1" r="8.7" fill="#ff0000"/>
<circle cx="1235.62" cy="1196.8" r="8.7" fill="#ff0000"/>
<circle cx="1249.22" cy="1195.4" r="8.7" fill="#ff0000"/>
<circle cx="1262.81" cy="1191.9" r="8.7" fill="#ff0000"/>
<circle cx="1276.4" cy="1186.2" r="8.7" fill="#ff0000"/>
<circle cx="1290" cy="1177.3" r="8.7" fill="#ff0000"/>
<circle cx="1303.59" cy="1166.8" r="8.7" fill="#ff0000"/>
<circle cx="1317.19" cy="1154.8" r="8.7" fill="#ff0000"/>
<circle cx="1330.78" cy="1138.1" r="8.7" fill="#ff0000"/>
<circle cx="1344.37" cy="1113.3" r="8.7" fill="#ff0000"/>
<circle cx="1357.97" cy="1082.6" r="8.7" fill="#ff0000"/>
<circle cx="1371.56" cy="1046.5" r="8.7" fill="#ff0000"/>
<circle cx="1385.16" cy="1017.4" r="8.7" fill="#ff0000"/>
<circle cx="1398.75" cy="1014.2" r="8.7" fill="#ff0000"/>
<circle cx="1412.34" cy="1056.8" r="8.7" fill="#ff0000"/>
<circle cx="1425.94" cy="1115.3" r="8.7" fill="#ff0000"/>
<circle cx="1439.53" cy="1167.3" r="8.7" fill="#ff0000"/>
<circle cx="1453.13" cy="1203.6" r="8.7" fill="#ff0000"/>
<circle cx="1466.72" cy="1226.9" r="8.7" fill="#ff0000"/>
<circle cx="1480.31" cy="1241" r="8.7" fill="#ff0000"/>
<circle cx="1493.91" cy="1248.8" r="8.7" fill="#ff0000"/>
<circle cx="1507.5" cy="1254" r="8.7" fill="#ff0000"/>
<circle cx="1521.1" cy="1258" r="8.7" fill="#ff0000"/>
<circle cx="1534.69" cy="1260.5" r="8.7" fill="#ff0000"/>
<circle cx="1548.28" cy="1262.7" r="8.7" fill="#ff0000"/>
<circle cx="1561.88" cy="1264.5" r="8.7" fill="#ff0000"/>
<circle cx="1575.47" cy="1265.7" r="8.7" fill="#ff0000"/>
<circle cx="1589.07" cy="1267.1" r="8.7" fill="#ff0000"/>
<circle cx="1602.66" cy="1268.2" r="8.7" fill="#ff0000"/>
<circle cx="1616.25" cy="1269.2" r="8.7" fill="#ff0000"/>
<circle cx="1629.85" cy="1270" r="8.7" fill="#ff0000"/>
<circle cx="1643.44" cy="1270.6" r="8.7" fill="#ff0000"/>
<circle cx="1657.04" cy="1271.1" r="8.7" fill="#ff0000"/>
<circle cx="1670.63" cy="1271.5" r="8.7" fill="#ff0000"/>
<circle cx="1684.22" cy="1271.9" r="8.7" fill="#ff0000"/>
<circle cx="1697.82" cy="1272.2" r="8.7" fill="#ff0000"/>
<circle cx="1711.41" cy="1272.5" r="8.7" fill="#ff0000"/>
<circle cx="1725.01" cy="1272.7" r="8.7" fill="#ff0000"/>
<circle cx="1738.6" cy="1272.9" r="8.7" fill="#ff0000"/>
<path d="M1058.9,1117.4 C1061.17,1121.03 1067.96,1133.23 1072.49,1139.2 C1077.03,1145.17 1081.56,1150.17 1086.09,1153.2 C1090.62,1156.23 1095.15,1156.1 1099.68,1157.4 C1104.21,1158.7 1108.74,1160.63 1113.28,1161 C1117.81,1161.37 1122.34,1159.97 1126.87,1159.6 C1131.4,1159.23 1135.93,1159.75 1140.46,1158.8 C1145,1157.85 1149.53,1154.83 1154.06,1153.9 C1158.59,1152.97 1163.12,1153.78 1167.65,1153.2 C1172.18,1152.62 1176.71,1151.45 1181.25,1150.4 C1185.78,1149.35 1190.31,1148.53 1194.84,1146.9 C1199.37,1145.27 1203.9,1142.82 1208.43,1140.6 C1212.97,1138.38 1217.5,1136.42 1222.03,1133.6 C1226.56,1130.78 1231.09,1127.92 1235.62,1123.7 C1240.15,1119.48 1244.68,1114.88 1249.22,1108.3 C1253.75,1101.72 1258.28,1093.78 1262.81,1084.2 C1267.34,1074.62 1271.87,1065.33 1276.4,1050.8 C1280.94,1036.27 1285.47,1015.87 1290,997 C1294.53,978.13 1299.06,958.92 1303.59,937.6 C1308.12,916.28 1312.65,887.65 1317.19,869.1 C1321.72,850.55 1326.25,827.82 1330.78,826.3 C1335.31,824.78 1339.84,838.35 1344.37,860 C1348.91,881.65 1353.44,923.12 1357.97,956.2 C1362.5,989.28 1367.03,1028.95 1371.56,1058.5 C1376.09,1088.05 1380.62,1113.18 1385.16,1133.5 C1389.69,1153.82 1394.22,1167.43 1398.75,1180.4 C1403.28,1193.37 1407.81,1203.07 1412.34,1211.3 C1416.88,1219.53 1421.41,1224.62 1425.94,1229.8 C1430.47,1234.98 1435,1238.62 1439.53,1242.4 C1444.06,1246.18 1448.59,1249.87 1453.13,1252.5 C1457.66,1255.13 1462.19,1256.58 1466.72,1258.2 C1471.25,1259.82 1475.78,1260.95 1480.31,1262.2 C1484.85,1263.45 1489.38,1264.88 1493.91,1265.7 C1498.44,1266.52 1502.97,1266.58 1507.5,1267.1 C1512.03,1267.62 1516.56,1268.28 1521.1,1268.8 C1525.63,1269.32 1530.16,1269.85 1534.69,1270.2 C1539.22,1270.55 1543.75,1270.68 1548.28,1270.9 C1552.82,1271.12 1557.35,1271.32 1561.88,1271.5 C1566.41,1271.68 1570.94,1271.87 1575.47,1272 C1580,1272.13 1584.53,1272.22 1589.07,1272.3 C1593.6,1272.38 1598.13,1272.43 1602.66,1272.5 C1607.19,1272.57 1611.72,1272.65 1616.25,1272.7 C1620.79,1272.75 1625.32,1272.77 1629.85,1272.8 C1634.38,1272.83 1638.91,1272.87 1643.44,1272.9 C1647.97,1272.93 1652.5,1272.97 1657.04,1273 C1661.57,1273.03 1666.1,1273.08 1670.63,1273.1 C1675.16,1273.12 1679.69,1273.08 1684.22,1273.1 C1688.76,1273.12 1693.29,1273.18 1697.82,1273.2 C1702.35,1273.22 1706.88,1273.2 1711.41,1273.2 C1715.94,1273.2 1720.47,1273.2 1725.01,1273.2 C1729.54,1273.2 1736.33,1273.2 1738.6,1273.2" fill="none" stroke="#0000ff" stroke-width="5.4" stroke-linejoin="round"/>
<circle cx="1058.9" cy="1117.4" r="8.7" fill="#0000ff"/>
<circle cx="1072.49" cy="1139.2" r="8.7" fill="#0000ff"/>
<circle cx="1086.09" cy="1153.2" r="8.7" fill="#0000ff"/>
<circle cx="1099.68" cy="1157.4" r="8.7" fill="#0000ff"/>
<circle cx="1113.28" cy="1161" r="8.7" fill="#0000ff"/>
<circle cx="1126.87" cy="1159.6" r="8.7" fill="#0000ff"/>
<circle cx="1140.46" cy="1158.8" r="8.7" fill="#0000ff"/>
<circle cx="1154.06" cy="1153.9" r="8.7" fill="#0000ff"/>
<circle cx="1167.65" cy="1153.2" r="8.7" fill="#0000ff"/>
<circle cx="1181.25" cy="1150.4" r="8.7" fill="#0000ff"/>
<circle cx="1194.84" cy="1146.9" r="8.7" fill="#0000ff"/>
<circle cx="1208.43" cy="1140.6" r="8.7" fill="#0000ff"/>
<circle cx="1222.03" cy="1133.6" r="8.7" fill="#0000ff"/>
<circle cx="1235.62" cy="1123.7" r="8.7" fill="#0000ff"/>
<circle cx="1249.22" cy="1108.3" r="8.7" fill="#0000ff"/>
<circle cx="1262.81" cy="1084.2" r="8.7" fill="#0000ff"/>
<circle cx="1276.4" cy="1050.8" r="8.7" fill="#0000ff"/>
<circle cx="1290" cy="997" r="8.7" fill="#0000ff"/>
<circle cx="1303.59" cy="937.6" r="8.7" fill="#0000ff"/>
<circle cx="1317.19" cy="869.1" r="8.7" fill="#0000ff"/>
<circle cx="1330.78" cy="826.3" r="8.7" fill="#0000ff"/>
<circle cx="1344.37" cy="860" r="8.7" fill="#0000ff"/>
<circle cx="1357.97" cy="956.2" r="8.7" fill="#0000ff"/>
<circle cx="1371.56" cy="1058.5" r="8.7" fill="#0000ff"/>
<circle cx="1385.16" cy="1133.5" r="8.7" fill="#0000ff"/>
<circle cx="1398.75" cy="1180.4" r="8.7" fill="#0000ff"/>
<circle cx="1412.34" cy="1211.3" r="8.7" fill="#0000ff"/>
<circle cx="1425.94" cy="1229.8" r="8.7" fill="#0000ff"/>
<circle cx="1439.53" cy="1242.4" r="8.7" fill="#0000ff"/>
<circle cx="1453.13" cy="1252.5" r="8.7" fill="#0000ff"/>
<circle cx="1466.72" cy="1258.2" r="8.7" fill="#0000ff"/>
<circle cx="1480.31" cy="1262.2" r="8.7" fill="#0000ff"/>
<circle cx="1493.91" cy="1265.7" r="8.7" fill="#0000ff"/>
<circle cx="1507.5" cy="1267.1" r="8.7" fill="#0000ff"/>
<circle cx="1521.1" cy="1268.8" r="8.7" fill="#0000ff"/>
<circle cx="1534.69" cy="1270.2" r="8.7" fill="#0000ff"/>
<circle cx="1548.28" cy="1270.9" r="8.7" fill="#0000ff"/>
<circle cx="1561.88" cy="1271.5" r="8.7" fill="#0000ff"/>
<circle cx="1575.47" cy="1272" r="8.7" fill="#0000ff"/>
<circle cx="1589.07" cy="1272.3" r="8.7" fill="#0000ff"/>
<circle cx="1602.66" cy="1272.5" r="8.7" fill="#0000ff"/>
<circle cx="1616.25" cy="1272.7" r="8.7" fill="#0000ff"/>
<circle cx="1629.85" cy="1272.8" r="8.7" fill="#0000ff"/>
<circle cx="1643.44" cy="1272.9" r="8.7" fill="#0000ff"/>
<circle cx="1657.04" cy="1273" r="8.7" fill="#0000ff"/>
<circle cx="1670.63" cy="1273.1" r="8.7" fill="#0000ff"/>
<circle cx="1684.22" cy="1273.1" r="8.7" fill="#0000ff"/>
<circle cx="1697.82" cy="1273.2" r="8.7" fill="#0000ff"/>
<circle cx="1711.41" cy="1273.2" r="8.7" fill="#0000ff"/>
<circle cx="1725.01" cy="1273.2" r="8.7" fill="#0000ff"/>
<circle cx="1738.6" cy="1273.2" r="8.7" fill="#0000ff"/>
<line x1="1590" y1="764.2" x2="1647" y2="764.2" stroke="#ff0000" stroke-width="6.4" stroke-linecap="round"/>
<circle cx="1616.8" cy="764.2" r="8.8" fill="#ff0000"/>
<line x1="1590" y1="821.2" x2="1647" y2="821.2" stroke="#0000ff" stroke-width="6.4" stroke-linecap="round"/>
<circle cx="1616.8" cy="821.2" r="8.8" fill="#0000ff"/>
<text x="1660.5" y="774.5" class="ax">0°</text>
<text x="1658" y="831.3" class="ax">25°</text>
<text x="1405.6" y="1374.3" text-anchor="middle" class="ax">Wavelength (nm)</text>
<text transform="translate(958.2,1011.1) rotate(-90)" text-anchor="middle" class="ax">Responsivity (mA/W)</text>
<text x="893" y="705.5" class="pl">(d)</text>
</svg></body></html>
